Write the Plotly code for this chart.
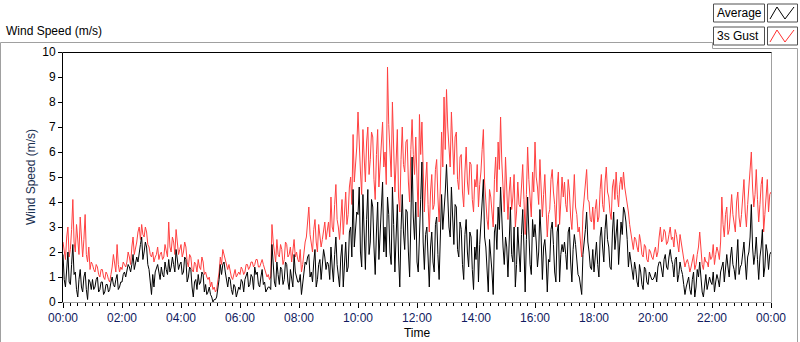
import plotly.graph_objects as go

# ---------------- data (2.5-minute samples, 00:00 .. 24:00), one row per hour ----------------
SAMPLE_MINUTES = 2.5

GUST = [
    2.4, 1.9, 1.7, 2.6, 3.0, 1.8, 2.1, 2.9, 4.1, 2.4, 2.0, 3.1, 2.6, 1.9, 3.4, 2.3, 1.8, 2.5, 3.5, 1.9, 1.6, 2.2, 1.3, 1.6,
    1.5, 1.3, 1.2, 1.5, 1.4, 1.1, 1.0, 1.3, 1.3, 1.0, 0.9, 1.2, 1.1, 0.9, 0.8, 1.1, 1.4, 1.9, 1.6, 1.2, 2.3, 1.5, 1.2, 1.4,
    1.3, 1.6, 1.5, 1.4, 1.6, 2.0, 1.8, 1.5, 2.2, 2.6, 1.9, 2.1, 2.4, 2.8, 3.0, 2.5, 3.1, 2.7, 2.6, 3.0, 2.8, 2.3, 2.2, 1.9,
    1.8, 2.0, 1.6, 1.8, 1.9, 2.2, 1.7, 1.9, 2.0, 1.7, 1.8, 2.3, 2.1, 1.8, 3.2, 2.2, 2.0, 2.6, 2.4, 1.9, 2.9, 2.3, 1.9, 2.1,
    2.3, 1.8, 2.0, 2.4, 2.2, 1.6, 1.4, 1.9, 1.8, 1.3, 1.2, 1.6, 1.5, 1.2, 1.7, 1.4, 1.3, 1.8, 1.6, 1.1, 1.2, 1.0, 0.9, 1.0,
    0.6, 0.8, 0.5, 0.6, 0.4, 0.5, 0.8, 1.2, 1.8, 1.5, 2.1, 1.9, 1.7, 1.4, 1.3, 1.5, 1.2, 1.0, 0.9, 1.1, 1.3, 1.0, 1.1, 1.2,
    1.1, 1.4, 1.3, 1.1, 1.2, 1.5, 1.5, 1.3, 1.4, 1.6, 1.6, 1.4, 1.5, 1.7, 1.7, 1.4, 1.4, 1.6, 1.7, 1.5, 1.3, 1.2, 1.0, 1.1,
    0.9, 1.0, 3.1, 2.4, 2.0, 1.6, 2.5, 1.9, 1.8, 2.3, 2.1, 1.5, 1.7, 2.4, 2.3, 1.8, 1.9, 2.2, 1.6, 2.0, 2.5, 1.8, 2.0, 1.7,
    1.6, 2.1, 1.2, 1.5, 2.0, 2.4, 2.6, 3.1, 3.8, 2.7, 2.3, 2.0, 2.9, 3.3, 2.4, 2.0, 3.1, 2.6, 2.2, 2.5, 2.8, 3.2, 2.5, 2.9,
    3.2, 2.6, 4.2, 3.0, 2.8, 3.9, 4.7, 3.3, 3.0, 2.5, 3.6, 4.1, 2.7, 3.8, 4.4, 3.1, 3.5, 4.6, 5.0, 3.9, 6.7, 4.8, 5.4, 6.2,
    7.6, 6.1, 5.2, 4.3, 6.9, 5.8, 4.8, 6.4, 7.0, 5.1, 5.7, 6.8, 6.6, 4.9, 4.1, 5.9, 6.9, 4.6, 5.5, 6.3, 7.2, 5.4, 6.0, 4.7,
    9.4, 7.1, 6.2, 5.0, 8.0, 6.3, 4.4, 5.6, 6.9, 4.2, 3.6, 5.7, 7.0, 5.5, 5.2, 6.4, 6.5, 4.8, 4.0, 6.1, 7.3, 5.9, 5.1, 6.6,
    4.5, 3.4, 7.5, 5.9, 7.2, 5.0, 3.6, 4.8, 5.6, 3.9, 2.8, 4.4, 5.1, 3.7, 3.9, 5.3, 5.7, 4.2, 3.2, 4.6, 6.8, 5.4, 8.2, 6.1,
    8.5, 7.0, 6.3, 5.4, 7.6, 6.1, 5.1, 6.6, 6.8, 4.9, 4.5, 5.8, 5.9, 4.4, 3.8, 5.2, 6.2, 4.8, 4.3, 5.6, 5.5, 4.1, 3.6, 4.9,
    4.6, 5.5, 3.8, 4.7, 5.2, 6.1, 6.9, 4.8, 4.0, 3.3, 2.9, 4.5, 4.2, 3.5, 3.0, 4.9, 5.8, 4.4, 6.4, 5.3, 7.4, 5.6, 4.5, 3.6,
    5.8, 4.5, 3.3, 4.4, 5.0, 3.7, 4.2, 5.1, 3.0, 3.6, 4.8, 3.9, 3.8, 4.6, 5.5, 4.1, 2.7, 4.3, 6.2, 4.9, 4.0, 3.4, 5.2, 4.4,
    6.4, 5.0, 4.6, 3.9, 5.7, 4.5, 3.4, 4.3, 5.1, 3.8, 2.6, 3.5, 3.7, 4.9, 5.3, 4.4, 3.9, 3.0, 4.6, 5.2, 3.1, 4.0, 5.0, 4.2,
    4.8, 3.9, 3.6, 4.9, 4.4, 3.4, 2.9, 4.0, 5.1, 3.8, 3.5, 2.8, 3.0, 2.4, 1.8, 3.6, 4.2, 4.7, 5.3, 4.1, 4.0, 3.3, 3.2, 3.8,
    2.9, 3.7, 4.1, 3.2, 3.4, 4.5, 5.1, 3.9, 3.6, 4.8, 5.4, 4.4, 4.2, 3.6, 3.3, 4.6, 4.9, 4.1, 5.2, 4.3, 3.8, 4.7, 5.0, 4.5,
    5.2, 4.6, 4.3, 4.0, 3.6, 3.1, 2.8, 2.4, 2.1, 2.6, 2.5, 2.2, 2.0, 2.7, 2.4, 1.9, 1.8, 2.3, 2.2, 1.7, 1.6, 2.1, 2.0, 1.8,
    1.7, 2.0, 2.2, 1.8, 2.0, 2.6, 3.0, 2.4, 2.5, 2.9, 2.8, 2.3, 2.4, 2.7, 3.0, 2.5, 2.6, 2.2, 2.9, 2.7, 2.3, 2.0, 2.7, 2.4,
    2.1, 1.7, 1.4, 1.6, 1.7, 1.5, 1.2, 1.4, 1.6, 1.9, 1.3, 1.5, 1.9, 2.2, 2.8, 2.0, 1.5, 1.3, 1.8, 1.6, 1.6, 1.4, 2.0, 1.7,
    1.8, 2.3, 1.5, 1.9, 2.2, 2.0, 1.7, 2.4, 4.2, 3.1, 2.6, 3.5, 3.8, 2.7, 2.9, 3.6, 4.3, 3.5, 3.2, 2.8, 4.0, 4.4, 3.4, 3.0,
    3.5, 4.4, 4.9, 3.6, 3.0, 3.9, 4.5, 5.2, 6.0, 4.6, 3.8, 4.3, 5.3, 4.1, 3.2, 3.9, 4.7, 5.0, 2.8, 3.5, 4.2, 4.9, 3.6, 4.3,
    4.4,
]

AVERAGE = [
    1.9, 0.9, 0.6, 1.4, 2.0, 0.8, 0.7, 1.5, 2.3, 1.1, 1.2, 0.5, 0.2, 0.9, 1.3, 0.6, 0.4, 1.0, 1.2, 0.5, 0.1, 0.9, 0.8, 0.5,
    0.9, 0.5, 0.6, 0.9, 1.0, 0.4, 0.5, 0.8, 0.8, 0.3, 0.4, 0.7, 0.7, 0.4, 0.5, 0.8, 1.0, 0.7, 0.6, 0.9, 1.1, 0.5, 0.6, 0.8,
    0.8, 1.1, 1.2, 1.0, 1.3, 1.5, 1.4, 1.2, 1.5, 1.9, 1.3, 1.6, 1.8, 1.6, 2.1, 2.3, 2.6, 1.7, 2.0, 2.4, 2.2, 1.5, 1.3, 0.9,
    0.3, 1.1, 0.6, 1.2, 1.4, 1.5, 1.2, 0.9, 1.4, 1.1, 1.0, 1.6, 1.3, 1.1, 1.7, 1.2, 1.4, 1.8, 1.5, 1.2, 2.1, 1.6, 1.3, 1.5,
    1.6, 1.1, 1.2, 1.8, 1.7, 0.8, 1.0, 1.4, 1.3, 0.6, 0.2, 0.8, 0.9, 0.5, 1.1, 0.7, 0.8, 1.2, 1.1, 0.4, 0.7, 0.3, 0.4, 0.6,
    0.3, 0.2, 0.0, 0.1, 0.1, 0.2, 0.5, 0.9, 1.5, 1.1, 1.5, 1.6, 1.2, 0.8, 0.6, 1.0, 0.9, 0.5, 0.3, 0.7, 0.6, 0.2, 0.4, 0.6,
    0.5, 0.9, 0.8, 0.4, 0.9, 1.1, 1.2, 0.6, 0.7, 1.1, 1.0, 0.5, 1.4, 1.1, 1.2, 0.7, 0.6, 1.0, 1.3, 0.7, 0.8, 0.4, 0.5, 0.6,
    0.6, 0.5, 2.3, 1.5, 0.8, 0.6, 1.6, 1.1, 0.7, 1.4, 1.3, 0.7, 0.9, 1.6, 1.5, 0.8, 0.5, 1.3, 1.0, 0.6, 1.9, 1.2, 1.0, 0.8,
    0.8, 1.1, 0.3, 0.7, 1.0, 1.6, 1.5, 1.8, 1.9, 1.0, 1.2, 0.8, 1.6, 2.1, 0.6, 0.9, 1.5, 1.7, 0.9, 1.4, 2.1, 1.8, 1.3, 1.6,
    1.5, 0.9, 2.2, 1.4, 0.8, 1.9, 2.6, 1.5, 1.0, 0.6, 1.8, 2.3, 0.6, 1.7, 2.4, 1.2, 1.4, 2.8, 3.0, 1.8, 4.5, 2.2, 2.8, 3.6,
    3.5, 4.6, 2.0, 1.4, 4.3, 2.9, 1.3, 3.3, 4.5, 1.9, 2.4, 4.1, 3.8, 2.2, 1.1, 2.8, 4.0, 1.7, 2.6, 3.9, 4.8, 2.0, 3.0, 1.8,
    4.2, 3.5, 2.0, 1.5, 4.6, 3.1, 1.2, 2.6, 3.9, 1.8, 0.6, 2.9, 4.3, 2.8, 2.1, 3.7, 3.6, 2.0, 1.0, 3.2, 5.8, 3.4, 2.5, 4.0,
    1.6, 1.2, 3.2, 4.1, 5.6, 2.4, 1.3, 2.7, 3.0, 1.5, 0.6, 2.2, 2.8, 1.6, 1.2, 3.1, 3.4, 1.9, 0.9, 2.6, 4.3, 2.9, 3.6, 4.4,
    5.5, 4.2, 3.0, 2.6, 4.6, 3.4, 2.3, 3.9, 3.8, 2.1, 1.8, 3.2, 2.9, 1.5, 0.9, 2.7, 3.3, 2.0, 1.4, 2.8, 2.6, 1.3, 0.5, 2.2,
    1.7, 2.9, 0.8, 2.3, 3.5, 4.0, 4.9, 2.6, 2.2, 1.1, 0.4, 2.5, 1.9, 1.2, 0.3, 2.8, 3.1, 2.1, 3.8, 2.9, 4.6, 3.0, 2.2, 1.5,
    2.6, 2.2, 1.0, 2.4, 3.8, 1.9, 1.6, 3.0, 0.6, 1.5, 3.0, 2.0, 1.2, 2.7, 3.7, 2.2, 0.4, 2.5, 4.2, 2.8, 1.5, 1.1, 3.3, 2.6,
    3.1, 2.4, 1.4, 2.0, 3.7, 2.6, 0.9, 2.2, 2.5, 1.8, 0.4, 1.7, 1.6, 2.9, 3.2, 2.3, 1.2, 0.8, 2.8, 3.1, 0.8, 1.9, 2.3, 2.0,
    2.4, 1.9, 1.3, 2.8, 3.0, 1.6, 0.8, 2.1, 2.7, 2.3, 1.7, 1.1, 1.0, 0.7, 0.3, 1.9, 2.3, 2.9, 3.6, 2.4, 2.0, 1.4, 1.3, 2.1,
    1.2, 1.9, 2.4, 1.5, 1.0, 2.6, 3.0, 2.2, 1.6, 2.9, 3.5, 2.5, 2.2, 1.4, 1.3, 2.8, 3.6, 2.1, 2.8, 3.3, 1.5, 2.6, 3.2, 2.7,
    3.8, 3.6, 3.2, 2.5, 1.4, 2.0, 1.6, 1.1, 0.9, 1.6, 1.3, 0.8, 0.6, 1.5, 1.2, 0.7, 0.5, 1.4, 1.3, 0.8, 0.7, 1.2, 1.0, 0.9,
    0.9, 1.0, 1.2, 0.8, 1.4, 1.6, 1.6, 1.2, 1.0, 1.7, 1.9, 1.4, 1.3, 1.8, 2.1, 1.7, 1.5, 1.0, 1.7, 1.8, 0.8, 1.1, 1.6, 1.3,
    1.1, 0.7, 0.3, 0.6, 0.8, 1.0, 0.5, 0.3, 0.9, 1.2, 0.2, 0.6, 1.3, 1.0, 1.6, 0.9, 0.4, 0.2, 0.8, 1.1, 0.5, 0.7, 1.0, 0.8,
    0.7, 1.2, 0.4, 0.8, 1.1, 0.9, 0.6, 1.2, 1.4, 1.6, 0.8, 1.3, 1.9, 1.4, 1.0, 1.8, 2.2, 1.5, 1.3, 0.9, 2.0, 2.5, 1.1, 1.4,
    1.5, 2.1, 2.4, 1.6, 0.9, 1.8, 2.0, 2.6, 3.9, 2.2, 1.5, 1.9, 2.6, 1.7, 0.9, 1.8, 2.2, 2.9, 1.0, 1.4, 2.3, 2.0, 1.3, 1.9,
    2.0,
]

SERIES_NAMES = ["Average", "3s Gust"]
TICK_HOURS = [0, 2, 4, 6, 8, 10, 12, 14, 16, 18, 20, 22, 24]
TICK_LABELS = ["00:00", "02:00", "04:00", "06:00", "08:00", "10:00", "12:00",
               "14:00", "16:00", "18:00", "20:00", "22:00", "00:00"]
Y_TICKS = [0, 1, 2, 3, 4, 5, 6, 7, 8, 9, 10]

assert len(GUST) == len(AVERAGE) == 577, (len(GUST), len(AVERAGE))
hours = [i * SAMPLE_MINUTES / 60 for i in range(len(GUST))]

# ---------------- geometry helpers (pixel -> paper) ----------------
W, H = 800, 342
L, R, T, B = 63, 771, 52, 302


def px(x):
    return (x - L) / (R - L)


def py(y):
    return (B - y) / (B - T)


FONT = "Liberation Sans, Arial, sans-serif"
GRAY = "#a0a0a0"

fig = go.Figure()
fig.add_trace(go.Scatter(x=hours, y=GUST, mode="lines", name=SERIES_NAMES[1],
                         line=dict(color="#ff4040", width=1)))
fig.add_trace(go.Scatter(x=hours, y=AVERAGE, mode="lines", name=SERIES_NAMES[0],
                         line=dict(color="#000000", width=1)))

shapes = []


def line(x0, y0, x1, y1, color, layer="above"):
    shapes.append(dict(type="line", xref="paper", yref="paper",
                       x0=px(x0), y0=py(y0), x1=px(x1), y1=py(y1),
                       line=dict(color=color, width=1), layer=layer))


# outer panel frame
line(0.5, 42.5, 712.5, 42.5, GRAY)
line(712.5, 42.5, 712.5, 48.5, GRAY)
line(712.5, 48.5, 797.5, 48.5, GRAY)
line(797.5, 48.5, 797.5, 342, GRAY)
line(0.5, 42.5, 0.5, 342, GRAY)

# plot area frame
line(771.5, 52.5, 771.5, 302.5, GRAY)
line(63, 302.5, 771.5, 302.5, GRAY)
line(62.5, 52.5, 771.5, 52.5, "#000000")
line(62.5, 52.5, 62.5, 302.5, "#000000")

annotations = []

# legend boxes
legend_rows = [(SERIES_NAMES[0], "#000000", 4, 22), (SERIES_NAMES[1], "#ff3030", 27, 45)]
for name, col, y0, y1 in legend_rows:
    for (x0, x1) in [(713.5, 764.5), (767.5, 797.5)]:
        shapes.append(dict(type="rect", xref="paper", yref="paper",
                           x0=px(x0), x1=px(x1), y0=py(y1), y1=py(y0),
                           line=dict(color="#505050", width=1),
                           fillcolor="white", layer="above"))
    pts = [(770, y1 - 3), (777, y0 + 3), (785, y1 - 3), (794, y0 + 3)]
    path = "M " + " L ".join(f"{px(a):.5f},{py(b):.5f}" for a, b in pts)
    shapes.append(dict(type="path", xref="paper", yref="paper", path=path,
                       line=dict(color=col, width=1), layer="above"))
    annotations.append(dict(xref="paper", yref="paper", x=px(715), y=py((y0 + y1) / 2),
                            xanchor="left", yanchor="middle", showarrow=False,
                            text=name, font=dict(family=FONT, size=12, color="#000000")))

# chart caption (top left)
annotations.append(dict(xref="paper", yref="paper", x=px(4), y=py(31),
                        xanchor="left", yanchor="middle", showarrow=False,
                        text="Wind Speed (m/s)",
                        font=dict(family=FONT, size=12, color="#000000")))

fig.update_layout(
    width=W, height=H,
    margin=dict(l=L, r=W - R, t=T, b=H - B, pad=0, autoexpand=False),
    paper_bgcolor="white", plot_bgcolor="white",
    showlegend=False,
    shapes=shapes, annotations=annotations,
    font=dict(family=FONT, size=12, color="#000000"),
)

fig.update_xaxes(
    range=[0, 24], showgrid=False, zeroline=False, showline=False, automargin=False,
    tickmode="array", tickvals=TICK_HOURS, ticktext=TICK_LABELS,
    ticks="outside", ticklen=5, tickcolor="#000000",
    tickfont=dict(family=FONT, size=12, color="#101a60"),
    minor=dict(dtick=0.25, ticks="outside", ticklen=3, tickcolor="#000000", showgrid=False),
    title=dict(text="Time", standoff=4, font=dict(family=FONT, size=12, color="#000000")),
)
fig.update_yaxes(
    range=[0, 10], showgrid=False, zeroline=False, showline=False, automargin=False,
    tickmode="array", tickvals=Y_TICKS,
    ticks="outside", ticklen=4, tickcolor="#000000",
    tickfont=dict(family=FONT, size=12, color="#000000"),
    title=dict(text="Wind Speed (m/s)", standoff=4,
               font=dict(family=FONT, size=12, color="#1a3050")),
)

fig.write_html("out.html",
               config={"displayModeBar": False, "staticPlot": True},
               post_script="document.body.style.margin='0';document.body.style.overflow='hidden';")
